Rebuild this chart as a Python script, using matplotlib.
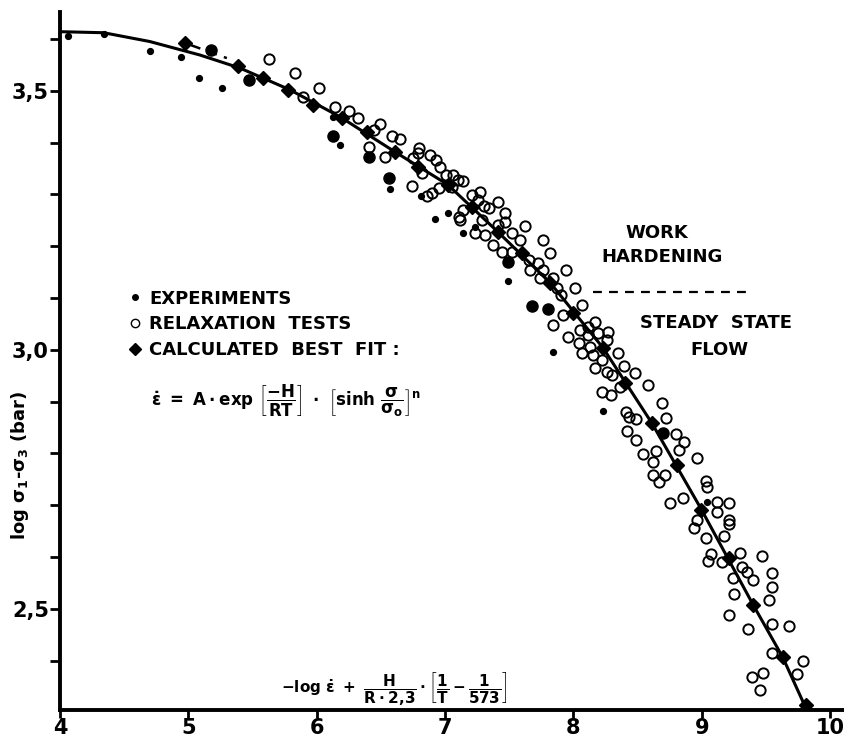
import matplotlib
matplotlib.use("Agg")
import matplotlib.pyplot as plt
from matplotlib.lines import Line2D

plt.rcParams['font.family'] = ['DejaVu Sans']
plt.rcParams['font.weight'] = 'bold'
plt.rcParams['mathtext.fontset'] = 'custom'
plt.rcParams['mathtext.rm'] = 'DejaVu Sans:bold'
plt.rcParams['mathtext.it'] = 'DejaVu Sans:bold'
plt.rcParams['mathtext.bf'] = 'DejaVu Sans:bold'
plt.rcParams['mathtext.sf'] = 'DejaVu Sans:bold'

# calculated best fit curve
fit_x = [4.00, 4.34, 4.70, 5.09, 5.40, 5.79, 6.18, 6.61, 7.02, 7.41, 7.82,
         8.23, 8.61, 8.99, 9.40, 9.63, 9.81]
fit_y = [3.614, 3.612, 3.595, 3.569, 3.544, 3.502, 3.450, 3.382, 3.319, 3.228,
         3.129, 3.004, 2.859, 2.695, 2.508, 2.407, 2.309]

# diamonds (calculated best fit points)
dia_x = [4.97, 5.39, 5.58, 5.78, 5.97, 6.20, 6.39, 6.61, 6.79, 7.02, 7.21, 7.41,
         7.60, 7.82, 8.00, 8.23, 8.40, 8.61, 8.81, 8.99, 9.21, 9.40, 9.63, 9.81]
dia_y = [3.593, 3.548, 3.525, 3.502, 3.473, 3.448, 3.421, 3.382, 3.353, 3.319,
         3.276, 3.228, 3.187, 3.129, 3.071, 3.004, 2.936, 2.859, 2.778, 2.691,
         2.598, 2.508, 2.407, 2.315]

# experiments, small dots
exp_x = [4.06, 4.34, 4.70, 4.94, 5.08, 5.26, 6.13, 6.18, 6.57, 6.81, 6.92, 7.02,
         7.14, 7.23, 7.49, 7.84, 8.23, 9.04]
exp_y = [3.606, 3.610, 3.577, 3.565, 3.525, 3.506, 3.450, 3.396, 3.311, 3.297,
         3.253, 3.264, 3.226, 3.237, 3.133, 2.996, 2.882, 2.707]

# experiments, large dots
expl_x = [5.18, 5.47, 6.13, 6.41, 6.56, 7.49, 7.68, 7.80, 8.70]
expl_y = [3.579, 3.521, 3.413, 3.373, 3.332, 3.170, 3.085, 3.079, 2.840]

# relaxation tests
rel_x = [5.63, 5.83, 6.02, 5.89, 6.14, 6.25, 6.32, 6.49, 6.45, 6.59, 6.65, 6.41,
         6.53, 6.75, 6.80, 6.79, 6.88, 6.93, 6.96, 7.01, 7.06, 7.10, 7.14, 7.05,
         6.95, 6.90, 6.86, 6.74, 6.82, 7.21, 7.27, 7.26, 7.30, 7.34, 7.41, 7.47,
         7.47, 7.14, 7.11, 7.23, 7.31, 7.37, 7.44, 7.29, 7.41, 7.12, 7.52, 7.58,
         7.52, 7.62, 7.76, 7.82, 7.65, 7.72, 7.66, 7.76, 7.74, 7.84, 7.94, 8.01,
         7.87, 7.90, 8.07, 7.92, 7.84, 8.05, 8.11, 7.96, 8.04, 8.11, 8.17, 8.19,
         8.27, 8.13, 8.07, 8.15, 8.22, 8.17, 8.26, 8.30, 8.22, 8.29, 8.36, 8.26,
         8.35, 8.39, 8.48, 8.58, 8.69, 8.72, 8.80, 8.86, 8.96, 9.03, 9.12, 9.21,
         8.41, 8.43, 8.49, 8.42, 8.49, 8.54, 8.62, 8.64, 8.62, 8.67, 8.71, 8.75,
         8.85, 8.82, 9.04, 9.12, 9.21, 9.21, 8.96, 8.94, 9.03, 9.17, 9.07, 9.05,
         9.16, 9.30, 9.47, 9.31, 9.35, 9.40, 9.24, 9.25, 9.55, 9.55, 9.52, 9.21,
         9.36, 9.55, 9.68, 9.55, 9.79, 9.74, 9.39, 9.48, 9.45]
rel_y = [3.562, 3.535, 3.506, 3.488, 3.469, 3.461, 3.448, 3.436, 3.425, 3.413,
         3.407, 3.392, 3.373, 3.371, 3.390, 3.380, 3.376, 3.367, 3.353, 3.338,
         3.338, 3.328, 3.326, 3.315, 3.313, 3.303, 3.297, 3.317, 3.342, 3.299,
         3.305, 3.290, 3.278, 3.274, 3.286, 3.264, 3.247, 3.270, 3.257, 3.226,
         3.222, 3.203, 3.189, 3.251, 3.241, 3.251, 3.226, 3.212, 3.189, 3.239,
         3.212, 3.187, 3.174, 3.168, 3.154, 3.154, 3.139, 3.139, 3.154, 3.120,
         3.120, 3.106, 3.087, 3.068, 3.048, 3.039, 3.044, 3.025, 3.014, 3.029,
         3.054, 3.033, 3.035, 3.006, 2.994, 2.990, 2.981, 2.965, 2.958, 2.952,
         2.919, 2.913, 2.929, 3.019, 2.994, 2.969, 2.956, 2.932, 2.898, 2.869,
         2.838, 2.822, 2.792, 2.747, 2.707, 2.705, 2.880, 2.871, 2.867, 2.844,
         2.826, 2.799, 2.784, 2.805, 2.759, 2.745, 2.759, 2.705, 2.714, 2.807,
         2.736, 2.687, 2.672, 2.664, 2.672, 2.656, 2.637, 2.641, 2.606, 2.593,
         2.591, 2.608, 2.602, 2.581, 2.571, 2.556, 2.560, 2.529, 2.570, 2.542,
         2.517, 2.488, 2.461, 2.471, 2.467, 2.415, 2.400, 2.375, 2.369, 2.376,
         2.344]

x_ticks = [4, 5, 6, 7, 8, 9, 10]
y_ticks = [2.5, 3.0, 3.5]
y_tick_labels = ['2,5', '3,0', '3,5']
y_minor = [2.4, 2.6, 2.7, 2.8, 2.9, 3.1, 3.2, 3.3, 3.4, 3.6]

fig = plt.figure(figsize=(8.44, 7.42), dpi=100)
ax = fig.add_axes([60/844, 32/742, 783/844, 698/742])

ax.plot(rel_x, rel_y, 'o', ms=7.4, mfc='none', mec='black', mew=1.4, ls='')
ax.plot(exp_x, exp_y, 'o', ms=4.2, color='black', ls='')
ax.plot(expl_x, expl_y, 'o', ms=8, color='black', ls='')
ax.plot(fit_x, fit_y, '-', color='black', lw=2.2)
ax.plot([5.02, 5.30], [3.588, 3.563], '--', color='black', lw=1.8, dashes=(4, 3))
ax.plot(dia_x, dia_y, 'D', ms=7.5, color='black', ls='')

ax.set_xlim(4, 10.10)
ax.set_ylim(2.305, 3.652)

for s in ['top', 'right']:
    ax.spines[s].set_visible(False)
for s in ['left', 'bottom']:
    ax.spines[s].set_linewidth(2.8)

ax.set_xticks(x_ticks)
ax.set_xticklabels([str(v) for v in x_ticks], fontsize=15, fontweight='bold')
ax.set_yticks(y_ticks)
ax.set_yticklabels(y_tick_labels, fontsize=15, fontweight='bold')
ax.set_yticks(y_minor, minor=True)
ax.tick_params(axis='x', direction='out', length=6, width=2, pad=0)
ax.tick_params(axis='y', which='both', direction='out', length=7, width=2, pad=1)

ax.set_ylabel(r'log $\mathsf{\sigma_1}$-$\mathsf{\sigma_3}$ (bar)', fontsize=13, fontweight='bold')
ax.yaxis.set_label_coords(-0.037, 0.35)

handles = [Line2D([], [], marker='o', ms=4, color='black', ls=''),
           Line2D([], [], marker='o', ms=6, mfc='none', mec='black', mew=1.0, ls=''),
           Line2D([], [], marker='D', ms=6.5, color='black', ls='')]
labels = ['EXPERIMENTS', 'RELAXATION  TESTS', 'CALCULATED  BEST  FIT :']
ax.legend(handles, labels, loc='upper left', bbox_to_anchor=(0.084, 0.602),
          frameon=False, borderpad=0, borderaxespad=0, handlelength=1.0,
          handletextpad=0.3, labelspacing=0.42,
          prop={'size': 13, 'weight': 'bold'})

ax.text(5.76, 2.903,
        r'$\dot{\epsilon}\ =\ A\cdot exp\ \left[\dfrac{-H}{RT}\right]\ \cdot\ \left[sinh\ \dfrac{\sigma}{\sigma_o}\right]^n$',
        fontsize=12, ha='center', va='center')
ax.text(6.60, 2.347,
        r'$-log\ \dot{\epsilon}\ +\ \dfrac{H}{R\cdot 2{,}3}\cdot\left[\dfrac{1}{T}-\dfrac{1}{573}\right]$',
        fontsize=11, ha='center', va='center')

ax.text(8.65, 3.226, 'WORK', fontsize=13, fontweight='bold', ha='center', va='center')
ax.text(8.69, 3.180, 'HARDENING', fontsize=13, fontweight='bold', ha='center', va='center')
ax.plot([8.15, 9.38], [3.112, 3.112], '--', color='black', lw=1.6, dashes=(4, 3.2))
ax.text(9.11, 3.052, 'STEADY  STATE', fontsize=13, fontweight='bold', ha='center', va='center')
ax.text(9.14, 3.000, 'FLOW', fontsize=13, fontweight='bold', ha='center', va='center')

fig.savefig('out.png', dpi=100)
